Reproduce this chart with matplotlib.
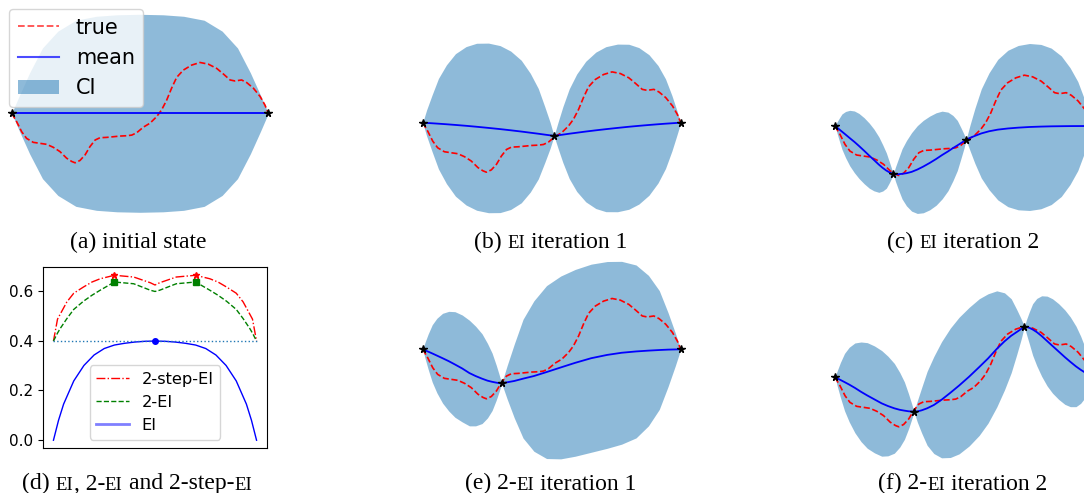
import matplotlib
matplotlib.use('Agg')
import numpy as np
import matplotlib.pyplot as plt
from matplotlib.lines import Line2D
from matplotlib.patches import Patch

W, H = 1084, 493
S = 33.0  # pixels per y unit in the GP panels

# true objective (shared by all GP panels)
x_true = [0, .019, .039, .058, .084, .110, .136, .162, .188, .214, .234, .247, .266, .286,
          .305, .325, .344, .370, .396, .422, .448, .468, .487, .513, .539, .565, .584,
          .604, .623, .643, .669, .701, .734, .766, .799, .825, .851, .870, .896, .916,
          .942, .968, .987, 1.0]
y_true = [0, -.25, -.56, -.76, -.88, -.91, -.94, -1.03, -1.16, -1.36, -1.46, -1.50, -1.43, -1.26,
          -1.01, -.81, -.74, -.73, -.71, -.69, -.68, -.66, -.59, -.42, -.30, -.10, .10,
          .40, .76, 1.09, 1.31, 1.46, 1.54, 1.49, 1.36, 1.19, 1.01, .98, 1.01, .93,
          .76, .51, .25, 0]

# (a) initial state
x_a = [0, .03, .07, .12, .18, .25, .33, .41, .5, .59, .67, .75, .82, .88, .93, .97, 1]
mean_a = [0] * 17
hw_a = [0, .54, 1.23, 1.98, 2.49, 2.82, 2.94, 2.985, 3.0, 2.985, 2.94, 2.82, 2.49, 1.98, 1.23, .54, 0]
obs_a_x = [0, 1]
obs_a_y = [0, 0]

# (b) EI iteration 1
x_b = [0, .015, .036, .061, .092, .127, .168, .209, .255, .300, .341, .382, .417, .448, .473, .494, .509,
       .524, .543, .568, .597, .632, .671, .710, .755, .799, .838, .877, .912, .941, .966, .985, 1]
mean_b = [0, -.007, -.017, -.030, -.047, -.068, -.094, -.123, -.158, -.194, -.230, -.268, -.303,
          -.334, -.361, -.383, -.40, -.383, -.362, -.334, -.304, -.268, -.231, -.196, -.158,
          -.123, -.095, -.069, -.047, -.030, -.017, -.007, 0]
hw_b = [0, .39, .85, 1.37, 1.80, 2.16, 2.40, 2.53, 2.57, 2.53, 2.40, 2.16, 1.80, 1.37, .85, .39, 0,
        .38, .84, 1.36, 1.78, 2.13, 2.37, 2.50, 2.54, 2.50, 2.37, 2.13, 1.78, 1.36, .84, .38, 0]
obs_b_x = [0, .509, 1]
obs_b_y = [0, -.40, 0]

# (c) EI iteration 2
x_c = [0, .007, .016, .027, .041, .057, .075, .093, .113, .133, .151, .170, .185, .199, .210, .219, .226,
       .234, .246, .260, .277, .297, .319, .342, .367, .392, .415, .438, .457, .474, .488, .500, .508,
       .523, .542, .567, .597, .631, .670, .710, .754, .798, .838, .877, .911, .941, .966, .984, 1]
mean_c = [0, -.04, -.10, -.17, -.26, -.365, -.48, -.605, -.75, -.90, -1.03, -1.17, -1.27, -1.35,
          -1.40, -1.435, -1.455,
          -1.46, -1.46, -1.45, -1.43, -1.39, -1.32, -1.23, -1.12, -1.00, -.88, -.77, -.67, -.59,
          -.52, -.46, -.42,
          -.36, -.30, -.225, -.16, -.11, -.075, -.05, -.03, -.018, -.01, -.006, -.003, -.002,
          -.001, 0, 0]
hw_c = [0, .15, .33, .535, .70, .84, .935, .985, 1.0, .985, .935, .84, .70, .535, .33, .15, 0,
        .21, .47, .76, .99, 1.19, 1.33, 1.40, 1.42, 1.40, 1.33, 1.19, .99, .76, .47, .21, 0,
        .38, .83, 1.35, 1.77, 2.13, 2.37, 2.49, 2.53, 2.49, 2.37, 2.13, 1.77, 1.35, .83, .38, 0]
obs_c_x = [0, .226, .508, 1]
obs_c_y = [0, -1.455, -.42, 0]

# (e) 2-EI iteration 1
x_e = [0, .009, .021, .037, .055, .077, .101, .125, .153, .181, .205, .230, .251, .269, .285, .297, .306,
       .327, .355, .389, .431, .480, .535, .591, .653, .715, .771, .827, .875, .917, .951, .979, 1]
mean_e = [0, -.03, -.07, -.125, -.19, -.27, -.36, -.46, -.58, -.72, -.81, -.89, -.95, -.985,
          -1.01, -1.025, -1.03,
          -1.00, -.96, -.89, -.81, -.69, -.55, -.41, -.27, -.17, -.105, -.065, -.04, -.022,
          -.01, -.004, 0]
hw_e = [0, .24, .53, .87, 1.13, 1.36, 1.51, 1.60, 1.62, 1.60, 1.51, 1.36, 1.13, .87, .53, .24, 0,
        .50, 1.12, 1.80, 2.28, 2.62, 2.77, 2.83, 2.85, 2.83, 2.77, 2.62, 2.28, 1.80, 1.12, .50, 0]
obs_e_x = [0, .306, 1]
obs_e_y = [0, -1.03, 0]

# (f) 2-EI iteration 2
x_f = [0, .009, .021, .037, .055, .077, .101, .125, .153, .181, .205, .230, .251, .269, .285, .297, .306,
       .319, .336, .357, .383, .413, .447, .481, .520, .559, .593, .627, .657, .683, .704, .721, .734,
       .742, .753, .766, .782, .801, .822, .843, .867, .891, .912, .934, .952, .968, .981, .992, 1]
mean_f = [0, -.035, -.08, -.145, -.22, -.32, -.44, -.55, -.67, -.79, -.87, -.94, -.985, -1.01,
          -1.03, -1.037, -1.04,
          -1.035, -1.00, -.94, -.84, -.68, -.47, -.25, .02, .31, .57, .86, 1.09, 1.26, 1.37,
          1.46, 1.535,
          1.525, 1.50, 1.45, 1.37, 1.25, 1.10, .95, .78, .61, .47, .33, .23, .15, .09, .04, 0]
hw_f = [0, .24, .53, .87, 1.13, 1.36, 1.51, 1.60, 1.62, 1.60, 1.51, 1.36, 1.13, .87, .53, .24, 0,
        .32, .69, 1.12, 1.47, 1.76, 1.96, 2.07, 2.1, 2.07, 1.96, 1.76, 1.47, 1.12, .69, .32, 0,
        .22, .48, .78, 1.02, 1.22, 1.36, 1.43, 1.45, 1.43, 1.36, 1.22, 1.02, .78, .48, .22, 0]
obs_f_x = [0, .306, .734, 1]
obs_f_y = [0, -1.04, 1.535, 0]

# (d) acquisition values
x_ei = [0, .025, .05, .1, .15, .2, .25, .3, .35, .4, .45, .5,
        .55, .6, .65, .7, .75, .8, .85, .9, .95, .975, 1]
ei = [0, .08, .145, .238, .30, .342, .368, .382, .389, .394, .397, .398,
      .397, .394, .389, .382, .368, .342, .30, .238, .145, .08, 0]
x_2ei = [0, .02, .033, .066, .1, .148, .19, .23, .30, .395, .477, .5,
         .523, .605, .70, .77, .81, .852, .9, .934, .967, .98, 1]
two_ei = [.398, .43, .448, .488, .525, .558, .582, .602, .635, .628, .602, .597,
          .602, .628, .635, .602, .582, .558, .525, .488, .448, .43, .398]
x_2step = [0, .02, .066, .1, .148, .19, .23, .30, .395, .477, .5,
           .523, .605, .70, .77, .81, .852, .9, .934, .98, 1]
two_step = [.398, .486, .555, .59, .615, .635, .648, .662, .655, .632, .623,
            .632, .655, .662, .648, .635, .615, .59, .555, .486, .398]
ei_best = (.5, .398)
two_ei_best = ([.3, .7], [.635, .635])
two_step_best = ([.3, .7], [.662, .662])
ei_level = .398
yticks_d = [0.0, 0.2, 0.4, 0.6]

fig = plt.figure(figsize=(W / 100, H / 100), dpi=100)


def add_px_axes(L, T, R, B):
    return fig.add_axes([L / W, 1 - B / H, (R - L) / W, (B - T) / H])


def gp_panel(box, X0, X1, Y0, xs, mean, hw, ox, oy):
    L, T, R, B = box
    ax = add_px_axes(L, T, R, B)
    xs = np.array(xs)
    mean = np.array(mean, dtype=float)
    hw = np.array(hw)
    ax.fill_between(xs, mean - hw, mean + hw, color='C0', alpha=0.5, lw=0)
    ax.plot(x_true, y_true, 'r--', lw=1.2)
    ax.plot(xs, mean, 'b-', lw=1.3)
    ax.plot(ox, oy, 'k*', ms=5.5)
    ax.set_xlim((L - X0) / (X1 - X0), (R - X0) / (X1 - X0))
    ax.set_ylim((Y0 - B) / S, (Y0 - T) / S)
    ax.axis('off')
    return ax


ax_a = gp_panel((0, 0, 300, 230), 11.7, 268.3, 113.3, x_a, mean_a, hw_a, obs_a_x, obs_a_y)
gp_panel((400, 0, 710, 230), 422.7, 680.7, 122.7, x_b, mean_b, hw_b, obs_b_x, obs_b_y)
gp_panel((810, 0, 1120, 230), 835, 1093, 126, x_c, mean_c, hw_c, obs_c_x, obs_c_y)
gp_panel((400, 250, 710, 470), 422.7, 680.7, 349.3, x_e, mean_e, hw_e, obs_e_x, obs_e_y)
gp_panel((810, 250, 1120, 470), 835, 1093, 377.3, x_f, mean_f, hw_f, obs_f_x, obs_f_y)

handles = [Line2D([], [], color='r', ls='--', lw=1.3, alpha=0.7),
           Line2D([], [], color='b', lw=1.5, alpha=0.7),
           Patch(color='C0', alpha=0.5, lw=0)]
ax_a.legend(handles, ['true', 'mean', 'CI'], loc='upper left', fontsize=15,
            bbox_to_anchor=(9.3 / W, 1 - 9.3 / H), bbox_transform=fig.transFigure,
            borderaxespad=0)

# (d) acquisition comparison
ax_d = add_px_axes(43.3, 267.3, 266.7, 447.7)
ax_d.plot(x_2step, two_step, 'r-.', lw=1, label='2-step-EI')
ax_d.plot(x_2ei, two_ei, 'g--', lw=1, label='2-EI')
ax_d.plot(x_ei, ei, 'b-', lw=1, label='EI')
ax_d.plot([0, 1], [ei_level, ei_level], ':', color='C0', lw=1)
ax_d.plot(*two_step_best, 'r*', ms=5, ls='none')
ax_d.plot(*two_ei_best, 'gs', ms=4, ls='none')
ax_d.plot(*ei_best, 'bo', ms=4)
ax_d.set_xlim(-0.05, 1.05)
ax_d.set_ylim(-0.03, 0.694)
ax_d.set_xticks([])
ax_d.set_yticks(yticks_d)
ax_d.set_yticklabels([f'{v:.1f}' for v in yticks_d])
ax_d.tick_params(labelsize=11)
leg = ax_d.legend(loc='lower center', fontsize=11.7)
leg.get_lines()[2].set_alpha(0.5)
leg.get_lines()[2].set_linewidth(2)

# captions with small-caps EI
renderer = fig.canvas.get_renderer()


def caption(xc, yb, parts):
    items = []
    for s, small in parts:
        size = 13.5 if small else 17
        t = fig.text(0, 1 - yb / H, s.strip(), fontsize=size, family='Liberation Serif',
                     va='baseline', ha='left')
        w = t.get_window_extent(renderer).width
        sp = 0.25 * 17 * 100 / 72
        lead = (len(s) - len(s.lstrip())) * sp
        trail = (len(s) - len(s.rstrip())) * sp
        items.append((t, lead, w, trail))
    total = sum(a + b + c for _, a, b, c in items)
    x = xc - total / 2
    for t, lead, w, trail in items:
        x += lead
        t.set_x(x / W)
        x += w + trail


caption(138.5, 248.5, [("(a) initial state", False)])
caption(551, 248.5, [("(b) ", False), ("EI", True), (" iteration 1", False)])
caption(963, 248.5, [("(c) ", False), ("EI", True), (" iteration 2", False)])
caption(137, 489.5, [("(d) ", False), ("EI", True), (", 2-", False), ("EI", True),
                     (" and 2-step-", False), ("EI", True)])
caption(550.5, 489.5, [("(e) 2-", False), ("EI", True), (" iteration 1", False)])
caption(963, 489.5, [("(f) 2-", False), ("EI", True), (" iteration 2", False)])

fig.savefig('out.png', dpi=100)
